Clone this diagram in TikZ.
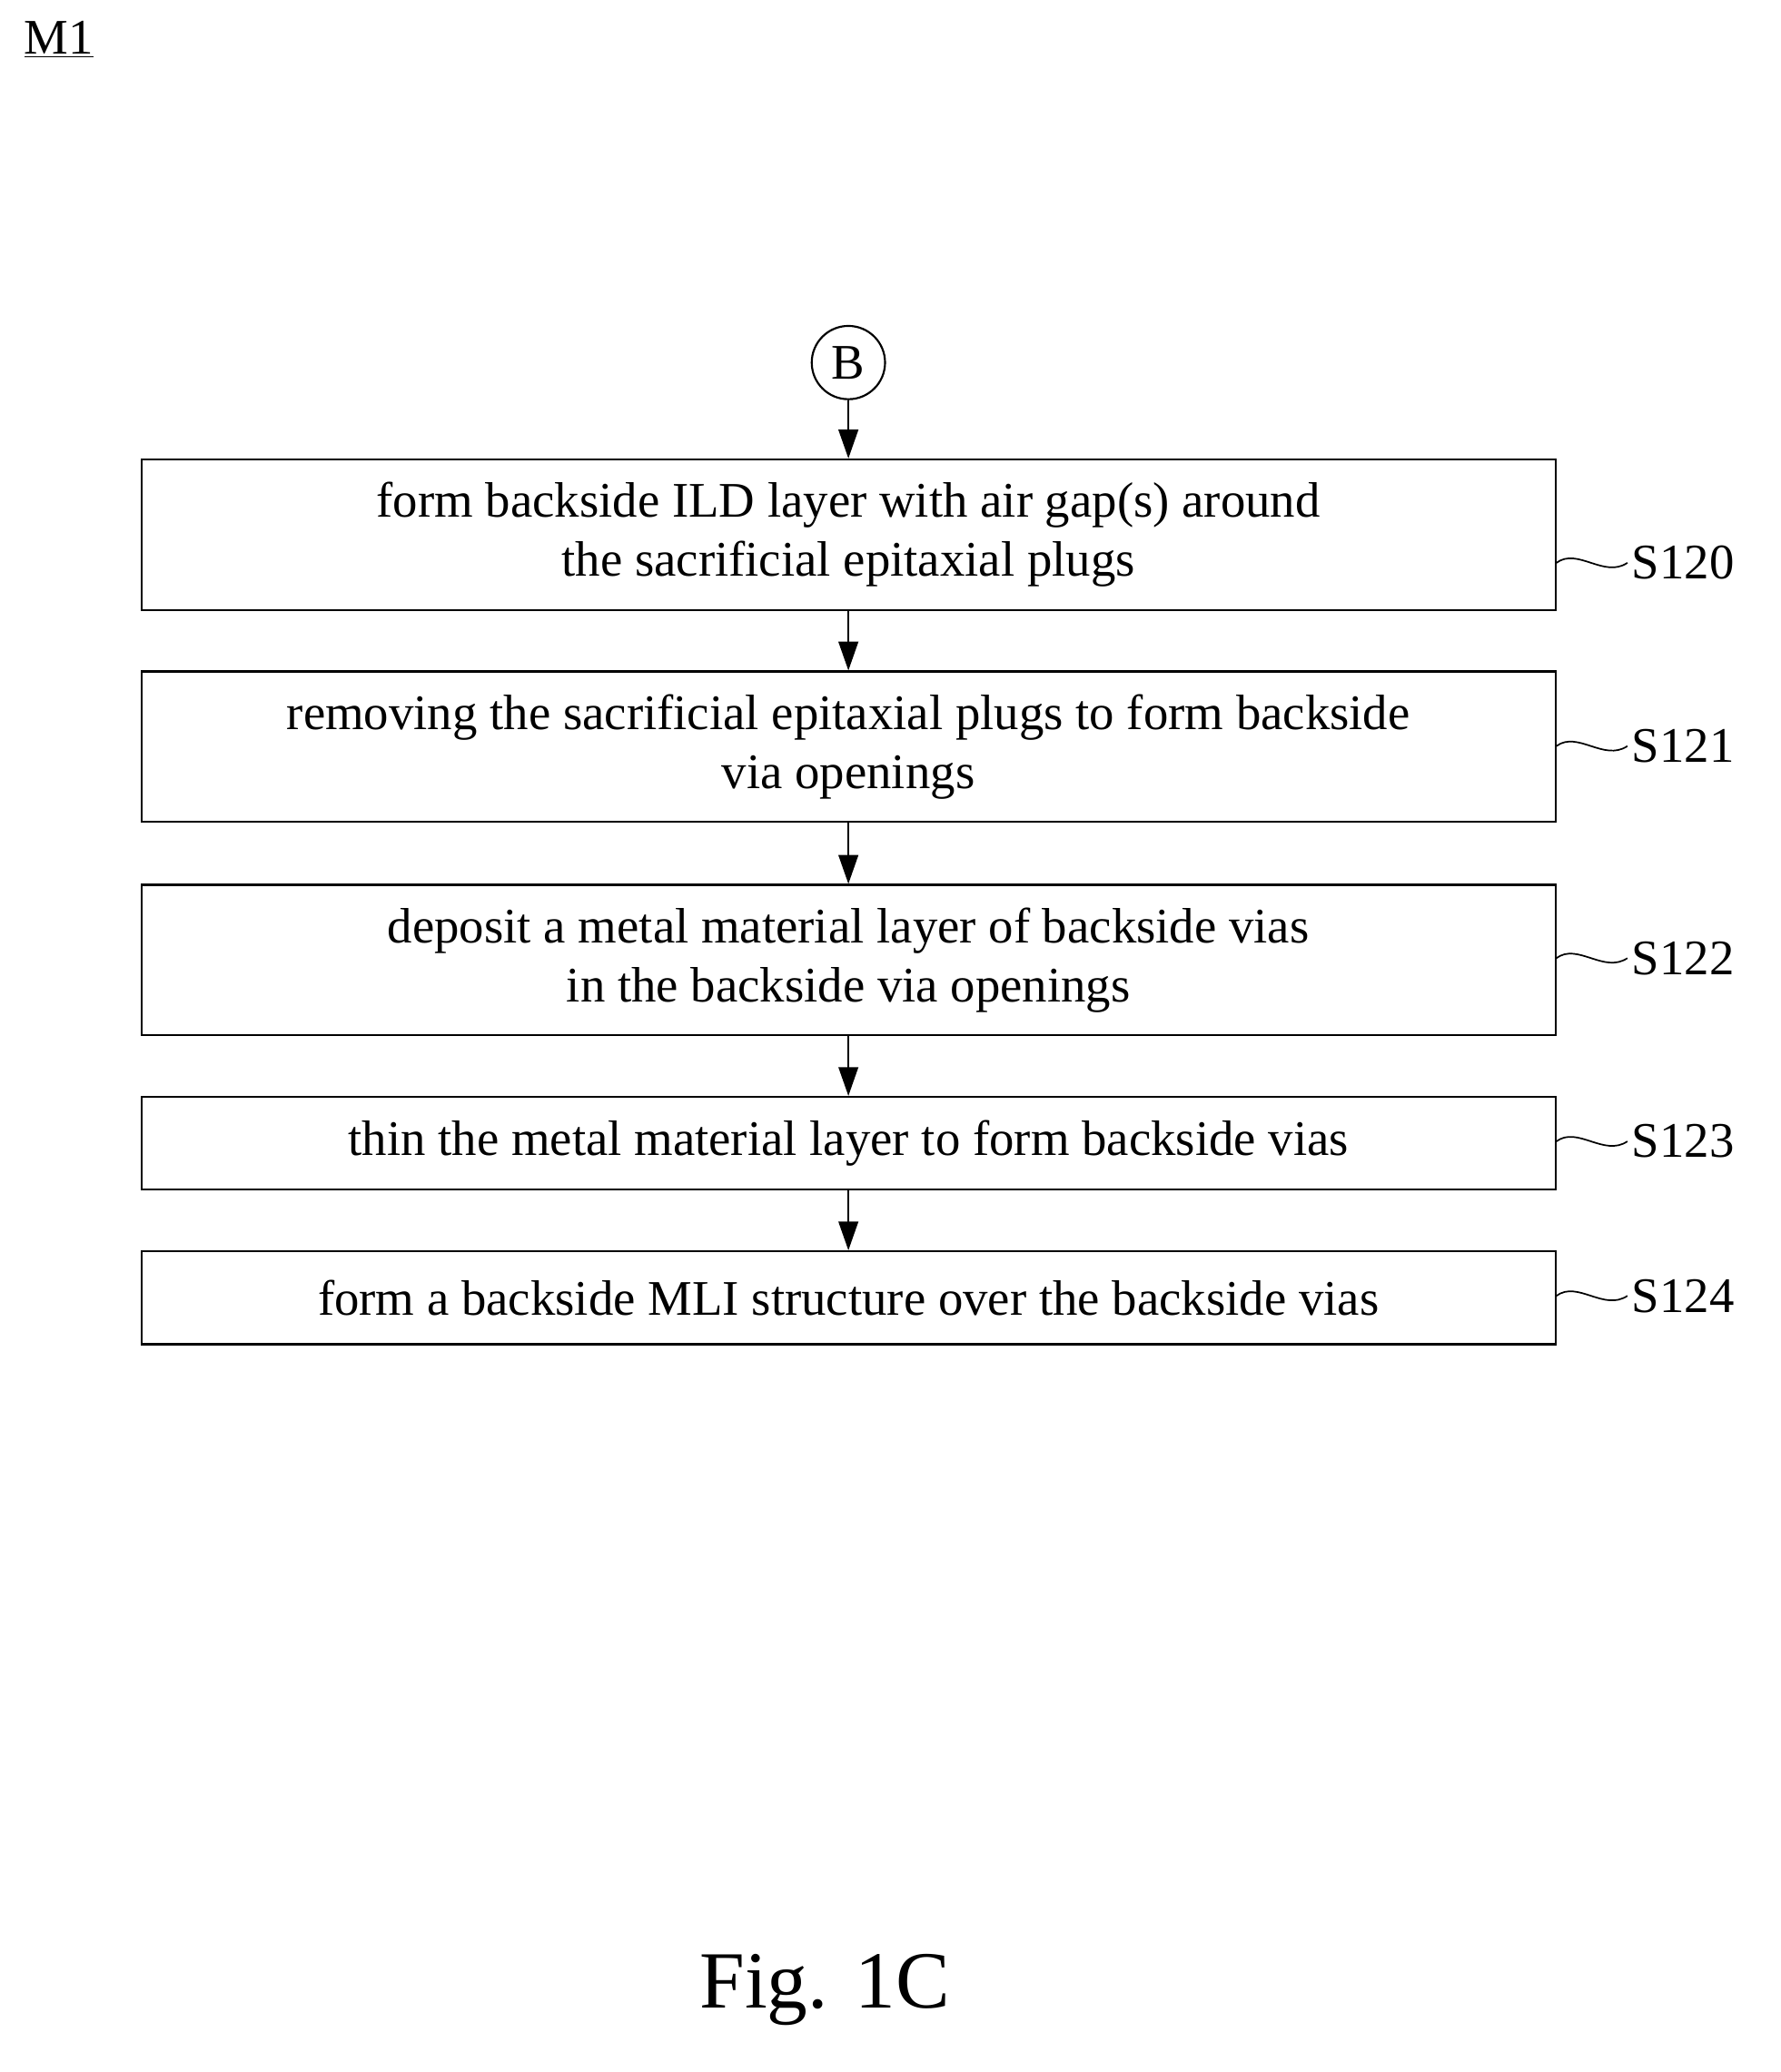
\documentclass[tikz,border=0pt]{standalone}
\usepackage{fontspec}
\setmainfont{Liberation Serif}
\usetikzlibrary{arrows.meta}
\begin{document}
\begin{tikzpicture}[x=1pt,y=-1pt,
  box/.style={draw,line width=1.5pt,minimum width=1080pt,align=center,inner sep=0pt,font=\fontsize{38}{45}\selectfont},
  arr/.style={-{Triangle[length=22pt,width=15pt]},line width=1.5pt},
  lab/.style={anchor=west,font=\fontsize{38}{40}\selectfont},
  sq/.style={line width=1.2pt}]
\useasboundingbox (0,0) rectangle (1360,1583);
\node[font=\fontsize{38}{40}\selectfont] (m1) at (45,30) {\underline{M1}};
\node[draw,circle,line width=1.5pt,minimum size=56pt,inner sep=0pt,font=\fontsize{38}{40}\selectfont] (b) at (648,277) {B};
\node[box,minimum height=115pt] (s0) at (648,408.5) {form backside ILD layer with air gap(s) around\\the sacrificial epitaxial plugs};
\node[box,minimum height=115pt] (s1) at (648,570.5) {removing the sacrificial epitaxial plugs to form backside\\via openings};
\node[box,minimum height=115pt] (s2) at (648,733.5) {deposit a metal material layer of backside vias\\in the backside via openings};
\node[box,minimum height=71pt] (s3) at (648,873.5) {thin the metal material layer to form backside vias};
\node[box,minimum height=71pt] (s4) at (648,991.5) {form a backside MLI structure over the backside vias};
\draw[arr] (b) -- (s0);
\draw[arr] (s0) -- (s1);
\draw[arr] (s1) -- (s2);
\draw[arr] (s2) -- (s3);
\draw[arr] (s3) -- (s4);
\foreach \n/\t/\y in {s0/S120/430,s1/S121/570,s2/S122/732,s3/S123/872,s4/S124/990}{
  \node[lab] (l\n) at (1243,\y) {\t};
  \draw[sq] (\n.east |- 0,\y) .. controls (1205,\y-12) and (1225,\y+12) .. (l\n.west);
}
\node[font=\fontsize{62}{66}\selectfont] (fig) at (630,1520) {Fig. 1C};
\end{tikzpicture}
\end{document}
